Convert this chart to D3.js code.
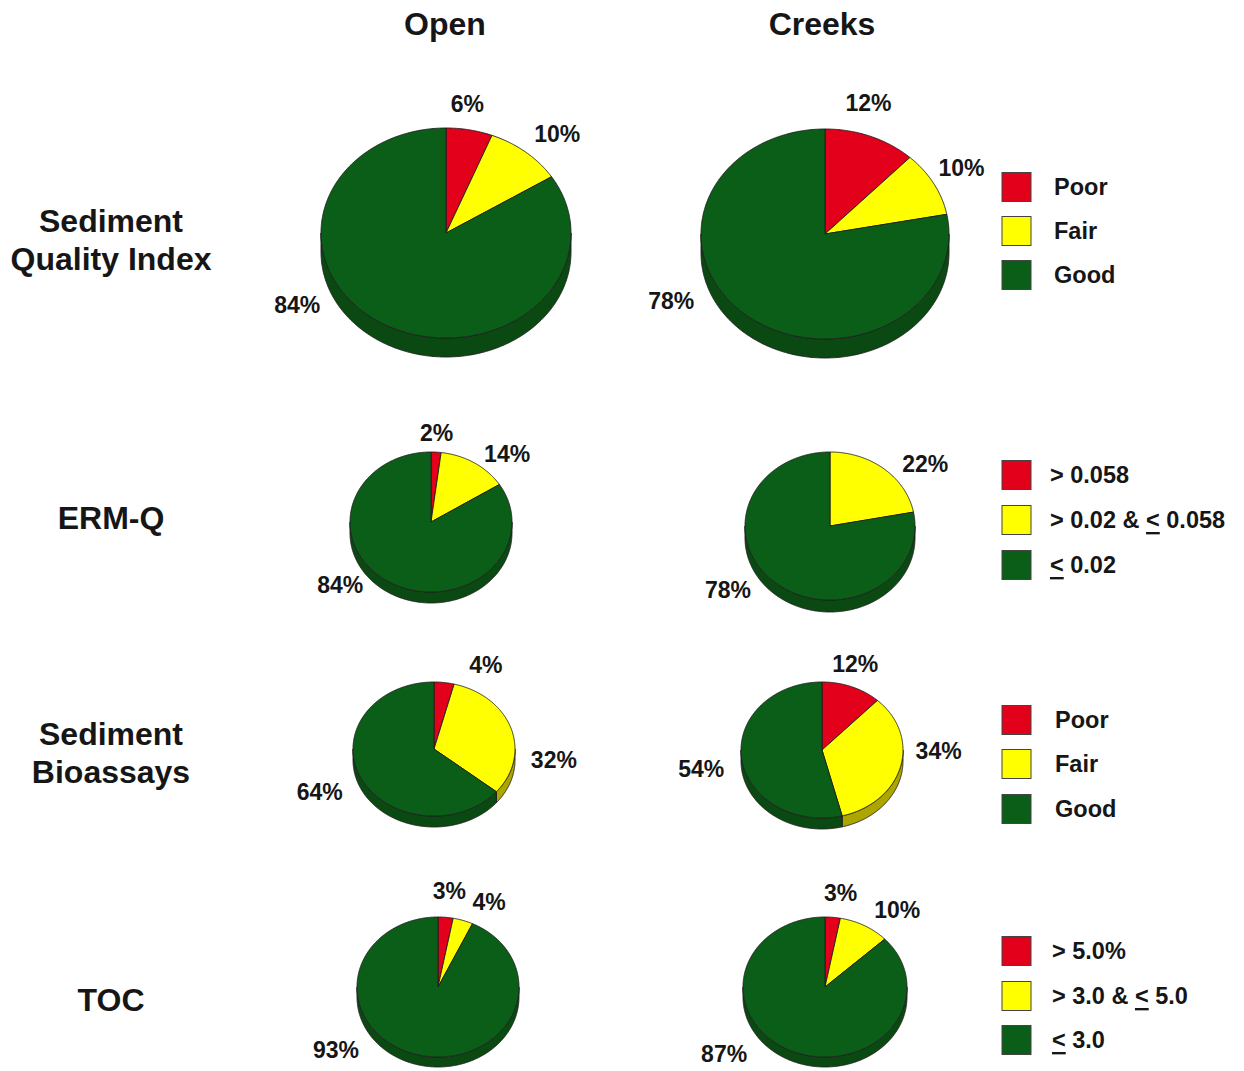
<!DOCTYPE html>
<html>
<head>
<meta charset="utf-8">
<script src="https://cdn.jsdelivr.net/npm/d3@7"></script>
<style>
  html, body { margin: 0; padding: 0; background: #fff; }
  svg { display: block; }
  text { font-family: "Liberation Sans", Arial, Helvetica, sans-serif; font-weight: bold; fill: #161616; }
</style>
</head>
<body>
<svg id="chart" width="1244" height="1071"></svg>
<script>
// ---- data ----
const categories = ["Poor", "Fair", "Good"];
const regions = ["Open", "Creeks"];
const indicatorLines = [["Sediment", "Quality Index"], ["ERM-Q"], ["Sediment", "Bioassays"], ["TOC"]];

const sqiOpen = [6, 10, 84];
const sqiCreeks = [12, 10, 78];
const ermqOpen = [2, 14, 84];
const ermqCreeks = [0, 22, 78];
const bioassayOpen = [4, 32, 64];
const bioassayCreeks = [12, 34, 54];
const tocOpen = [3, 4, 93];
const tocCreeks = [3, 10, 87];

const sqiLegend = ["Poor", "Fair", "Good"];
const ermqLegend = ["> 0.058", "> 0.02 & ≤ 0.058", "≤ 0.02"];
const bioassayLegend = ["Poor", "Fair", "Good"];
const tocLegend = ["> 5.0%", "> 3.0 & ≤ 5.0", "≤ 3.0"];

// ---- styling ----
const topColor = d3.scaleOrdinal().domain(categories).range(["#e2001a", "#ffff00", "#0b5e18"]);
const sideColor = d3.scaleOrdinal().domain(categories).range(["#9e0414", "#aea600", "#0a4a12"]);
const outline = "#1e1e1e";

// ---- layout: one entry per indicator row ----
const rows = [
  { values: [sqiOpen, sqiCreeks], legend: sqiLegend,
    pies: [{ cx: 446, cy: 233, rx: 125, ry: 105, depth: 19 }, { cx: 825, cy: 234, rx: 124, ry: 105, depth: 19 }],
    labelAt: [[[0.17, -1.23], [0.89, -0.94], [-1.19, 0.69]], [[0.35, -1.25], [1.10, -0.63], [-1.24, 0.64]]],
    labelY: [221, 259], legendY: [187, 231, 275], legendTextX: 1054 },
  { values: [ermqOpen, ermqCreeks], legend: ermqLegend,
    pies: [{ cx: 431, cy: 522, rx: 81, ry: 70, depth: 11 }, { cx: 830, cy: 526, rx: 85, ry: 74, depth: 12 }],
    labelAt: [[[0.07, -1.27], [0.94, -0.97], [-1.12, 0.90]], [null, [1.12, -0.84], [-1.20, 0.86]]],
    labelY: [518], legendY: [475, 520, 565], legendTextX: 1050 },
  { values: [bioassayOpen, bioassayCreeks], legend: bioassayLegend,
    pies: [{ cx: 434, cy: 749, rx: 81, ry: 67, depth: 11 }, { cx: 822, cy: 750, rx: 81, ry: 68, depth: 11 }],
    labelAt: [[[0.64, -1.26], [1.48, 0.17], [-1.41, 0.64]], [[0.41, -1.26], [1.44, 0.01], [-1.49, 0.28]]],
    labelY: [734, 772], legendY: [720, 764, 809], legendTextX: 1055 },
  { values: [tocOpen, tocCreeks], legend: tocLegend,
    pies: [{ cx: 438, cy: 987, rx: 81, ry: 70, depth: 10 }, { cx: 825, cy: 987, rx: 82, ry: 70, depth: 10 }],
    labelAt: [[[0.14, -1.37], [0.63, -1.21], [-1.26, 0.90]], [[0.19, -1.35], [0.88, -1.10], [-1.23, 0.96]]],
    labelY: [1000], legendY: [951, 996, 1040], legendTextX: 1052 }
];

const svg = d3.select("#chart");

// column headings
const colX = [445, 822];
svg.selectAll("text.col").data(regions).join("text")
  .attr("class", "col")
  .attr("x", (d, i) => colX[i]).attr("y", 24)
  .attr("text-anchor", "middle").attr("dominant-baseline", "central")
  .style("font-size", "32px")
  .text(d => d);

const pie = d3.pie().sort(null).value(d => d);
const line = d3.line();

// point on the elliptical rim for a d3 pie angle (0 = 12 o'clock, clockwise)
function rim(p, a, dy = 0) {
  return [p.cx + p.rx * Math.sin(a), p.cy - p.ry * Math.cos(a) + dy];
}
function arcPoints(p, a0, a1, dy = 0) {
  const n = Math.max(2, Math.ceil(Math.abs(a1 - a0) / (Math.PI / 360)));
  return d3.range(n + 1).map(k => rim(p, a0 + (a1 - a0) * k / n, dy));
}

rows.forEach((row, ri) => {
  // indicator label on the left
  const g = svg.append("g");
  indicatorLines[ri].forEach((t, li) => {
    g.append("text")
      .attr("x", 111).attr("y", row.labelY[li])
      .attr("text-anchor", "middle").attr("dominant-baseline", "central")
      .style("font-size", "32px")
      .text(t);
  });

  row.values.forEach((vals, ci) => {
    const p = row.pies[ci];
    const slices = pie(vals).map((s, k) => ({ ...s, cat: categories[k] }));
    const pg = svg.append("g");

    // side walls of the front half (angles between 3 and 9 o'clock)
    slices.forEach(s => {
      const a0 = Math.max(s.startAngle, Math.PI / 2);
      const a1 = Math.min(s.endAngle, 3 * Math.PI / 2);
      if (a1 <= a0) return;
      const pts = arcPoints(p, a0, a1).concat(arcPoints(p, a1, a0, p.depth));
      pg.append("path")
        .attr("d", line(pts) + "Z")
        .attr("fill", sideColor(s.cat))
        .attr("stroke", outline).attr("stroke-width", 0.9).attr("stroke-linejoin", "round");
    });

    // top faces
    slices.forEach(s => {
      if (s.endAngle - s.startAngle <= 0) return;
      const pts = [[p.cx, p.cy]].concat(arcPoints(p, s.startAngle, s.endAngle));
      pg.append("path")
        .attr("d", line(pts) + "Z")
        .attr("fill", topColor(s.cat))
        .attr("stroke", outline).attr("stroke-width", 0.9).attr("stroke-linejoin", "round");
    });

    // percentage labels
    slices.forEach((s, k) => {
      const at = row.labelAt[ci][k];
      if (!at) return;
      pg.append("text")
        .attr("x", p.cx + at[0] * p.rx).attr("y", p.cy + at[1] * p.ry)
        .attr("text-anchor", "middle").attr("dominant-baseline", "central")
        .style("font-size", "23px")
        .text(s.data + "%");
    });
  });

  // legend
  const lg = svg.append("g");
  row.legend.forEach((label, k) => {
    const y = row.legendY[k];
    lg.append("rect")
      .attr("x", 1002).attr("y", y - 14.5).attr("width", 29).attr("height", 29)
      .attr("fill", topColor(categories[k]))
      .attr("stroke", "#444").attr("stroke-width", 1);
    const t = lg.append("text")
      .attr("x", row.legendTextX).attr("y", y)
      .attr("dominant-baseline", "central")
      .style("font-size", "23.5px");
    // "≤" is typeset as an underlined "<"
    label.split("≤").forEach((part, j) => {
      if (j > 0) t.append("tspan").style("text-decoration", "underline").text("<");
      t.append("tspan").text(part);
    });
  });
});
</script>
</body>
</html>
